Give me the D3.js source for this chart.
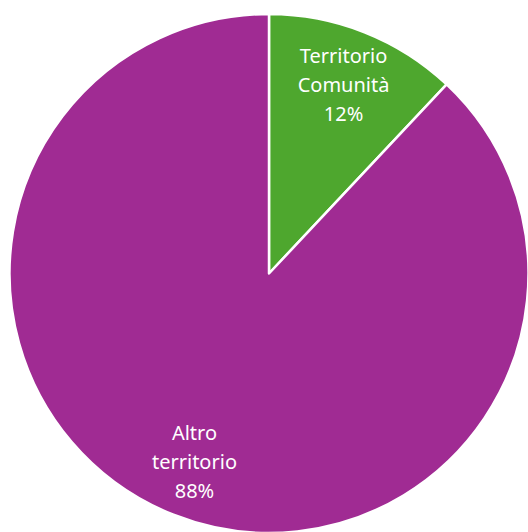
<!DOCTYPE html>
<html>
<head>
<meta charset="utf-8">
<script src="https://cdn.jsdelivr.net/npm/d3@7"></script>
<style>
  html, body { margin: 0; padding: 0; background: #ffffff; overflow: hidden; }
  svg { display: block; }
</style>
</head>
<body>
<div id="chart"></div>
<script>
// Share of territory: community area vs. the rest
const categories = ["Territorio Comunità", "Altro territorio"];
const labelLines = [["Territorio", "Comunità"], ["Altro", "territorio"]];
const values = [12, 88];
const colors = ["#4EA72E", "#A02B93"];

const width = 528, height = 532;
const cx = 269, cy = 273.5, radius = 259.5;

const svg = d3.select("#chart").append("svg")
  .attr("width", width)
  .attr("height", height);

const g = svg.append("g").attr("transform", `translate(${cx},${cy})`);

const pie = d3.pie().sort(null).value(d => d.value);
const data = categories.map((c, i) => ({ name: c, value: values[i], lines: labelLines[i], color: colors[i] }));
const arcs = pie(data);

const arc = d3.arc().innerRadius(0).outerRadius(radius);
const labelArc = d3.arc().innerRadius(radius * 0.78).outerRadius(radius * 0.78);

g.selectAll("path.slice")
  .data(arcs)
  .join("path")
  .attr("class", "slice")
  .attr("d", arc)
  .attr("fill", d => d.data.color)
  .attr("stroke", "#ffffff")
  .attr("stroke-width", 2.5)
  .attr("stroke-linejoin", "round");

const total = d3.sum(values);
const lineH = 29;
const labels = g.selectAll("text.label")
  .data(arcs)
  .join("text")
  .attr("class", "label")
  .attr("text-anchor", "middle")
  .attr("fill", "#ffffff")
  .style("font-family", "'Noto Sans', 'Open Sans', sans-serif")
  .style("font-size", "20px")
  .attr("transform", d => {
    const [x, y] = labelArc.centroid(d);
    return `translate(${x},${y})`;
  });

labels.each(function(d) {
  const lines = d.data.lines.concat([d3.format(".0%")(d.data.value / total)]);
  const t = d3.select(this);
  lines.forEach((ln, i) => {
    t.append("tspan")
      .attr("x", 0)
      .attr("y", (i - (lines.length - 1) / 2) * lineH + 7)
      .text(ln);
  });
});
</script>
</body>
</html>
